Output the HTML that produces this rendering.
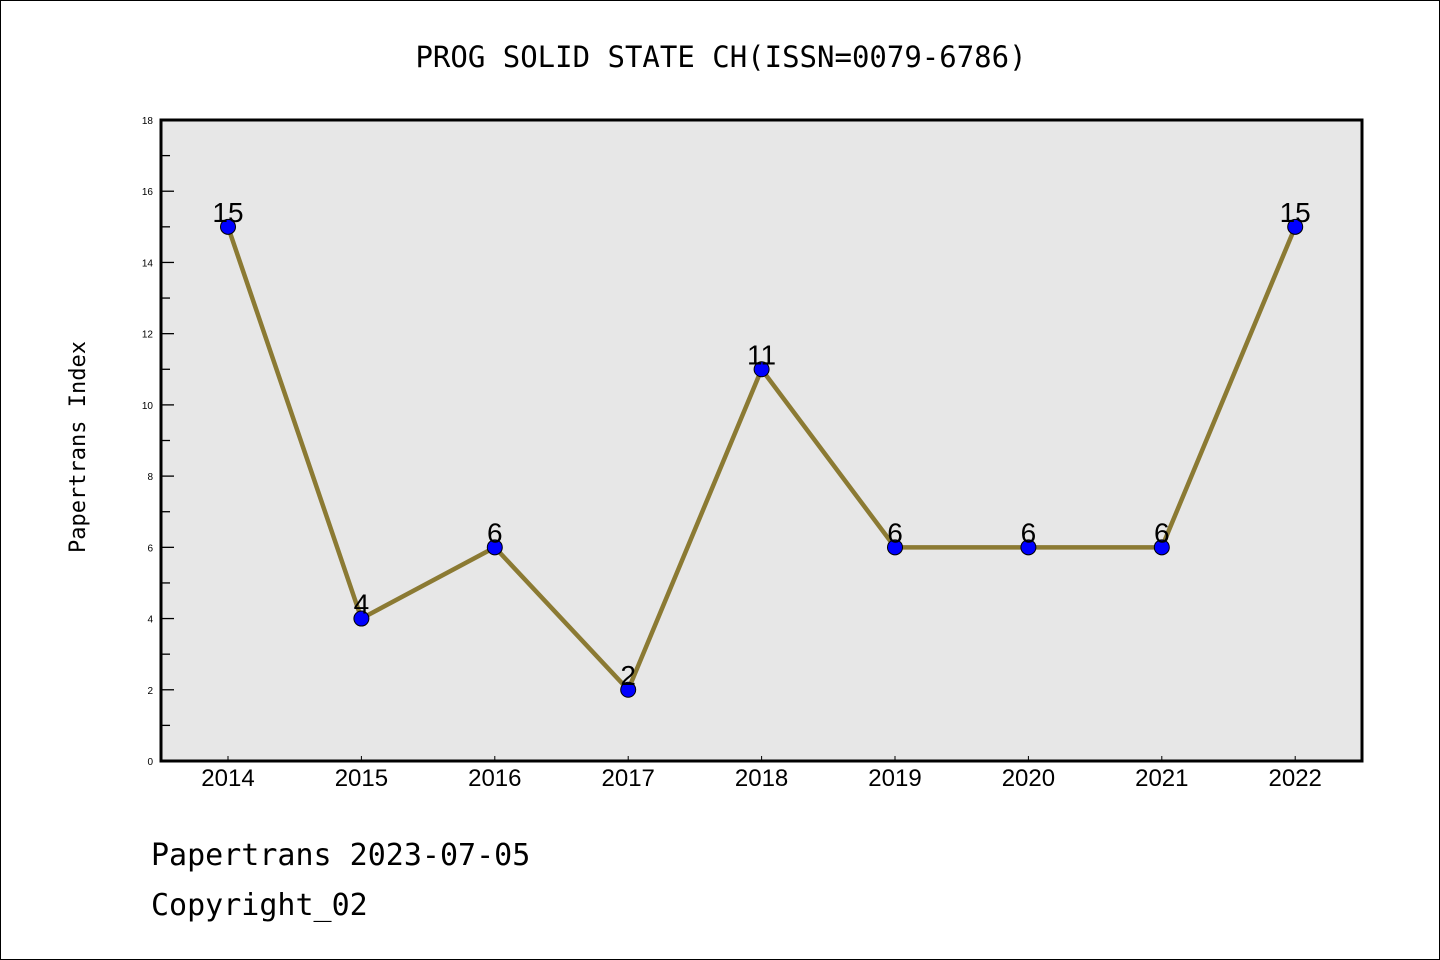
<!DOCTYPE html>
<html><head><meta charset="utf-8"><style>
html,body{margin:0;padding:0;background:#fff}
#wrap{position:relative;width:1440px;height:960px;box-sizing:border-box;border:1px solid #000;overflow:hidden}
svg{position:absolute;left:0;top:0}
text{font-family:"Liberation Sans","DejaVu Sans",sans-serif}
.mono{font-family:"DejaVu Sans Mono","Liberation Mono",monospace}
</style></head><body>
<div id="wrap">
<svg id="chart" width="1440" height="960">
<text class="mono" x="720" y="66" font-size="29" text-anchor="middle">PROG SOLID STATE CH(ISSN=0079-6786)</text>
<rect x="160" y="119" width="1201" height="641" fill="#e7e7e7"/>
<text class="mono" transform="translate(84,446) rotate(-90)" font-size="22" text-anchor="middle">Papertrans Index</text>
<text class="mono" x="150" y="864" font-size="30">Papertrans 2023-07-05</text>
<text class="mono" x="150" y="914" font-size="30">Copyright_02</text>
<g id="axes"></g><g id="series"></g>
<rect x="160" y="119" width="1201" height="641" fill="none" stroke="#000" stroke-width="3"/>
</svg>
</div>
<script>
const categories=["2014","2015","2016","2017","2018","2019","2020","2021","2022"];
const values=[15,4,6,2,11,6,6,6,15];
const yTicks=[0,2,4,6,8,10,12,14,16,18];
const NS="http://www.w3.org/2000/svg";
const X0=227,XSTEP=133.4,Y0=760,YMAX=18,PH=641;
function xs(i){return X0+i*XSTEP;}
function ys(v){return Y0-v/YMAX*PH;}
function mk(t,a,p){const e=document.createElementNS(NS,t);for(const k in a)e.setAttribute(k,a[k]);p.appendChild(e);return e;}
const ax=document.getElementById('axes'),se=document.getElementById('series');
yTicks.forEach(v=>{
  const y=ys(v);
  const l=mk('line',{x1:160,x2:173,y1:y,y2:y,stroke:'#000','stroke-width':1.3},ax);
  
  
  const t=mk('text',{x:152,y:y+4,'font-size':10,'text-anchor':'end'},ax);
  t.textContent=v;
  
  
  if(v<YMAX){const ym=ys(v+1);
    const m=mk('line',{x1:160,x2:169,y1:ym,y2:ym,stroke:'#000','stroke-width':1.3},ax);
    
    }
});
categories.forEach((c,i)=>{
  const x=xs(i);
  const l=mk('line',{x1:x,x2:x,y1:760,y2:755,stroke:'#000','stroke-width':1},ax);
  
  
  const t=mk('text',{x:x,y:785,'font-size':24,'text-anchor':'middle'},ax);
  t.textContent=c;
  
  
});
const pl=mk('polyline',{points:values.map((v,i)=>xs(i)+','+ys(v)).join(' '),fill:'none',stroke:'#8b7a33','stroke-width':4.5,'stroke-linejoin':'round'},se);


values.forEach((v,i)=>{
  const c=mk('circle',{cx:xs(i),cy:ys(v),r:7.5,fill:'#0000ff',stroke:'#000','stroke-width':1},se);
  
  
  const t=mk('text',{x:xs(i),y:ys(v)-5,'font-size':28,'text-anchor':'middle'},se);
  t.textContent=v;
  
  
});
</script>
</body></html>
